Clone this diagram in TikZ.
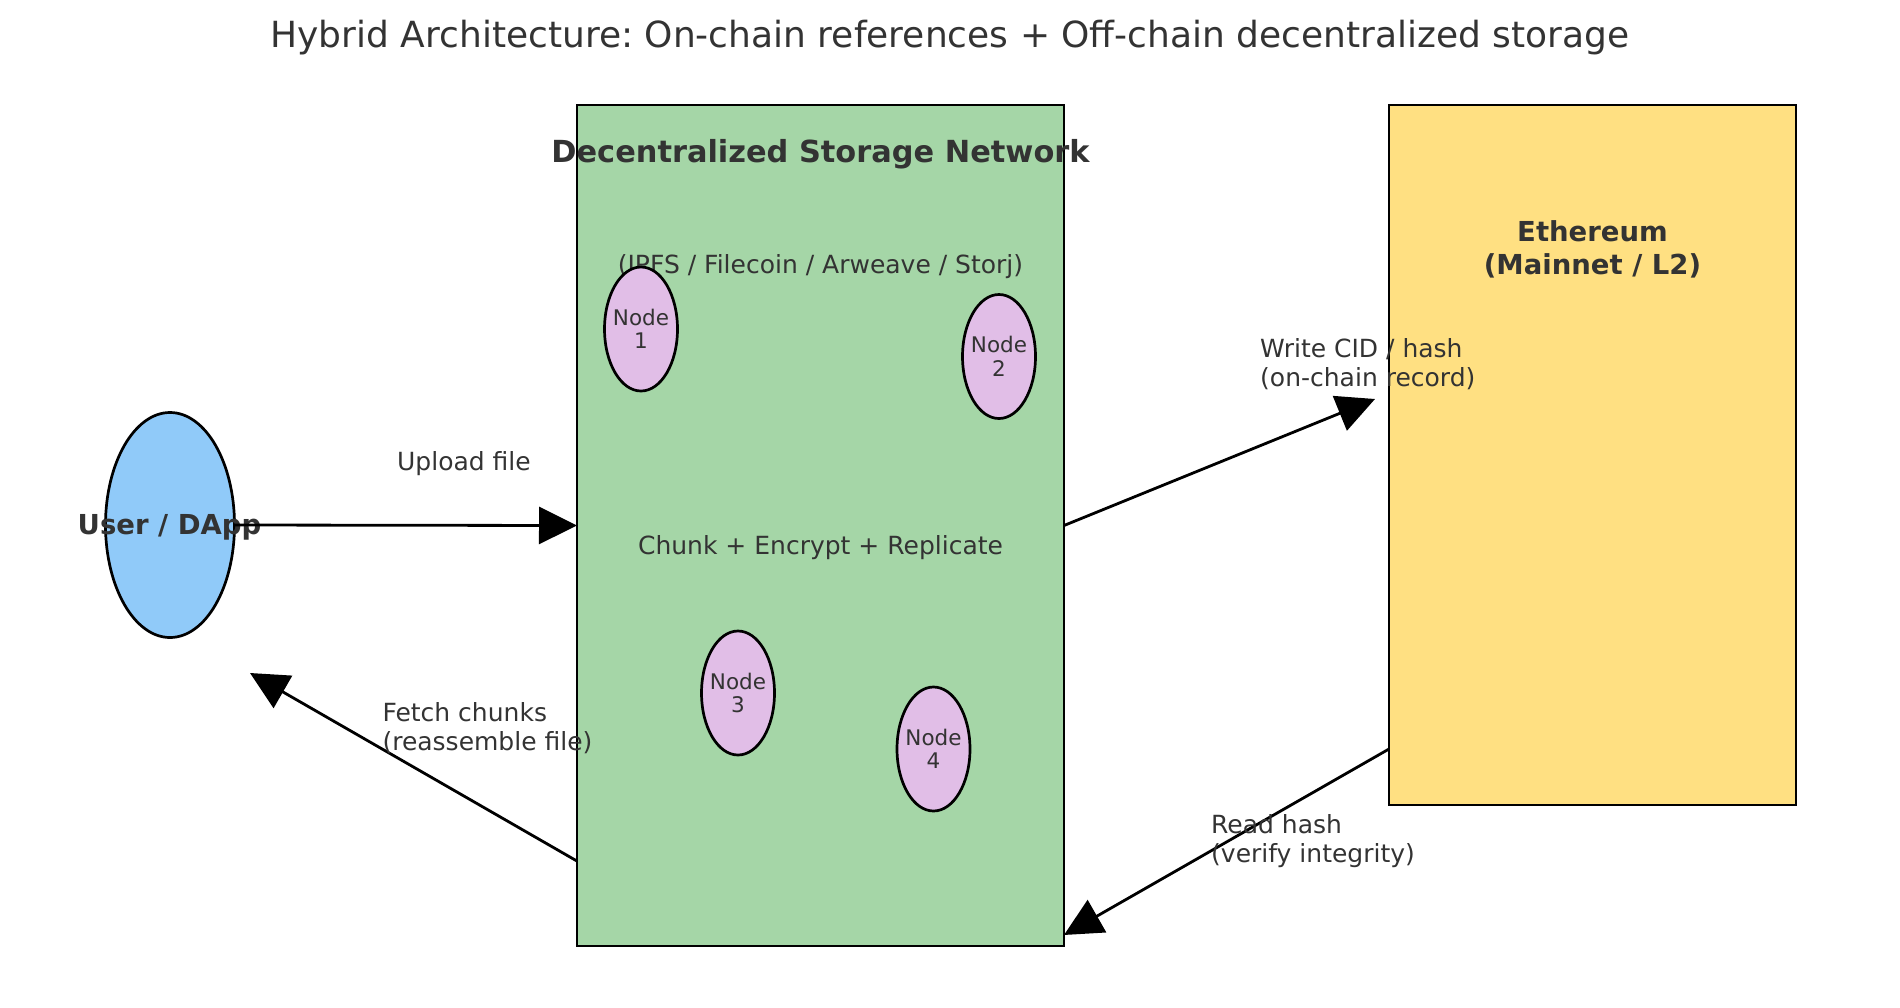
\documentclass[tikz,border=0pt]{standalone}
\usepackage{fontspec}
\setmainfont{DejaVu Sans}
\usetikzlibrary{arrows.meta,shapes.geometric,calc}
\definecolor{txt}{HTML}{333333}
\definecolor{storagec}{HTML}{A5D6A7}
\definecolor{ethc}{HTML}{FFE082}
\definecolor{userc}{HTML}{90CAF9}
\definecolor{nodec}{HTML}{E1BEE7}
\frenchspacing
\begin{document}
\frenchspacing
\begin{tikzpicture}[x=1pt,y=-1pt,
  box/.style={draw=black, line width=2.8pt, inner sep=0pt, outer sep=0pt, rectangle},
  ell/.style={draw=black, line width=2.7pt, inner sep=0pt, outer sep=0pt, ellipse},
  storenode/.style={ell, fill=nodec, minimum width=73pt, minimum height=124pt},
  nodetxt/.style={text=txt, inner sep=0pt, align=center, font=\fontsize{21.5}{23.5}\selectfont},
  lbl/.style={text=txt, inner sep=0pt, align=left, font=\fontsize{25}{29}\selectfont},
  ctr/.style={text=txt, inner sep=0pt, align=center, font=\fontsize{25}{29}\selectfont},
  bold/.style={text=txt, inner sep=0pt, align=center, font=\bfseries\fontsize{27.5}{32.6}\selectfont},
  flow/.style={draw=black, line width=2.8pt, -{Triangle[length=38pt, width=37pt]}}
]
\useasboundingbox (0,0) rectangle (1900,1007);

% title
\node[text=txt, inner sep=0pt, anchor=base, font=\fontsize{36}{40}\selectfont] (title) at (950,47)
  {Hybrid Architecture: On-chain references + Off-chain decentralized storage};

% boxes
\node[box, fill=storagec, minimum width=487pt, minimum height=841pt] (storage) at (820.5,525.5) {};
\node[box, fill=ethc, minimum width=407pt, minimum height=700pt] (eth) at (1592.5,455) {};
\node[ell, fill=userc, minimum width=129pt, minimum height=225pt] (user) at (170,525) {};

% storage texts
\node[bold, font=\bfseries\fontsize{30.4}{36}\selectfont, anchor=base] (stitle) at (820.5,162) {Decentralized Storage Network};
\node[ctr, anchor=base] (ssub) at (820.5,273) {(IPFS / Filecoin / Arweave / Storj)};
\node[ctr, anchor=base] (sproc) at (820.5,554) {Chunk + Encrypt + Replicate};

% storage nodes
\node[storenode] (n1) at (641,329) {};
\node[storenode] (n2) at (999,356.5) {};
\node[storenode] (n3) at (738,693) {};
\node[storenode] (n4) at (933.5,749) {};
\node[nodetxt] (n1t) at (n1) {Node\\1};
\node[nodetxt] (n2t) at (n2) {Node\\2};
\node[nodetxt] (n3t) at (n3) {Node\\3};
\node[nodetxt] (n4t) at (n4) {Node\\4};

% ethereum and user texts
\node[bold, anchor=base] (etht) at (1592.5,274.3) {Ethereum\\(Mainnet / L2)};
\node[bold, anchor=base] (usert) at (169.5,534) {User / DApp};

% connectors
\coordinate (writetip) at (1375,399);
\coordinate (fetchtip) at (250,673);
\coordinate (readstart) at ($(eth.south west)!0.08!(eth.north west)$);
\coordinate (readtip) at ($(storage.south east)!0.0131!(storage.north east)$);
\coordinate (fetchstart) at ($(storage.south west)!0.101!(storage.north west)$);

\draw[flow] (user.east) -- (storage.west);
\draw[flow] (storage.east) -- (writetip);
\draw[flow] (readstart) -- (readtip);
\draw[flow] (fetchstart) -- (fetchtip);

% connector labels
\node[ctr, anchor=base] (uplbl) at (464,470) {Upload file};
\node[lbl, anchor=base west] (writelbl) at (1260,386) {Write CID / hash\\(on-chain record)};
\node[lbl, anchor=base west] (readlbl) at (1211,862.3) {Read hash\\(verify integrity)};
\node[lbl, anchor=base west] (fetchlbl) at (382.3,750.7) {Fetch chunks\\(reassemble file)};
\end{tikzpicture}
\end{document}
